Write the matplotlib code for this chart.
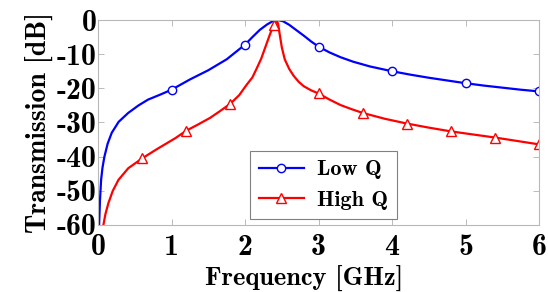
import matplotlib
matplotlib.use("Agg")
import matplotlib.pyplot as plt

plt.rcParams['font.family'] = ['cmb10', 'DejaVu Serif']
plt.rcParams['axes.unicode_minus'] = False

# values (frequency in GHz, transmission in dB)
low_q_freq = [0.014, 0.025, 0.041, 0.06, 0.086, 0.13, 0.186, 0.28, 0.41, 0.55,
              0.68, 0.85, 1.0, 1.25, 1.5, 1.75, 2.0, 2.1, 2.2, 2.3, 2.38, 2.45,
              2.52, 2.6, 2.7, 2.8, 2.9, 3.0, 3.15, 3.3, 3.47, 3.7, 4.0, 4.25,
              4.5, 4.75, 5.0, 5.25, 5.5, 5.75, 6.0]
low_q_db = [-60, -53, -46.8, -43.2, -40, -36.2, -33, -29.8, -27.2, -25, -23.3,
            -21.8, -20.4, -17.4, -14.7, -11.5, -7.2, -5.0, -2.9, -1.3, -0.3,
            0.0, -0.4, -1.4, -3.0, -4.6, -6.3, -7.8, -9.5, -10.9, -12.2,
            -13.6, -15.0, -16.0, -16.9, -17.7, -18.5, -19.2, -19.8, -20.4,
            -20.9]
low_q_marks = [1.0, 2.0, 3.0, 4.0, 5.0, 6.0]

high_q_freq = [0.072, 0.1, 0.14, 0.2, 0.277, 0.41, 0.6, 0.8, 1.05, 1.2, 1.35,
               1.52, 1.65, 1.8, 1.92, 2.02, 2.1, 2.16, 2.22, 2.27, 2.32, 2.36,
               2.4, 2.43, 2.45, 2.47, 2.5, 2.54, 2.6, 2.66, 2.73, 2.8, 2.9, 3.0,
               3.15, 3.3, 3.45, 3.6, 3.9, 4.2, 4.5, 4.8, 5.1, 5.4, 5.7, 6.0]
high_q_db = [-60, -56.8, -53.6, -50, -46.8, -43.4, -40.5, -37.8, -34.6, -32.4,
             -30.7, -28.7, -26.8, -24.5, -22, -19, -16.8, -14.1, -11.3, -8.3,
             -5.3, -3.0, -1.4, 0.0, -1.2, -4.0, -8.0, -11.5, -14.3, -16.3,
             -18.1, -19.4, -20.6, -21.5, -23.3, -24.9, -26.1, -27.2, -28.9,
             -30.3, -31.5, -32.6, -33.5, -34.4, -35.4, -36.4]
high_q_marks = [0.6, 1.2, 1.8, 2.4, 3.0, 3.6, 4.2, 4.8, 5.4, 6.0]

fig = plt.figure(figsize=(5.48, 2.92), dpi=100)
ax = fig.add_axes([0.179, 0.2295, 0.8046, 0.702])

ax.plot(low_q_freq, low_q_db, color="blue", lw=1.6, marker="o", ms=6,
        mfc="white", mec="blue", mew=1.0,
        markevery=[i for i, f in enumerate(low_q_freq) if f in low_q_marks],
        label="Low Q")
ax.plot(high_q_freq, high_q_db, color="red", lw=1.6, marker="^", ms=7.5,
        mfc="white", mec="red", mew=1.0,
        markevery=[i for i, f in enumerate(high_q_freq) if f in high_q_marks],
        label="High Q")

ax.set_xlim(0, 6)
ax.set_ylim(-60, 0)
ax.set_xticks(range(0, 7))
ax.set_yticks(range(-60, 1, 10))
ax.tick_params(direction="in", top=True, right=True, length=4, width=0.6,
               color="#b0b0b0", labelsize=21.5)
ax.tick_params(axis="x", pad=6.5)
ax.tick_params(axis="y", pad=1)
for s in ax.spines.values():
    s.set_color("#b8b8b8")
    s.set_linewidth(0.8)

ax.set_xlabel("Frequency [GHz]", fontsize=19)
ax.xaxis.set_label_coords(0.467, -0.198)
ax.set_ylabel("Transmission [dB]", fontsize=20, labelpad=3)

leg = ax.legend(loc="lower left", bbox_to_anchor=(0.345, 0.03), fontsize=16,
                fancybox=False, edgecolor="#606060", handlelength=2.0,
                borderpad=0.4, labelspacing=0.5, handletextpad=0.6,
                borderaxespad=0)
leg.get_frame().set_linewidth(0.8)

fig.savefig("out.png", dpi=100)
